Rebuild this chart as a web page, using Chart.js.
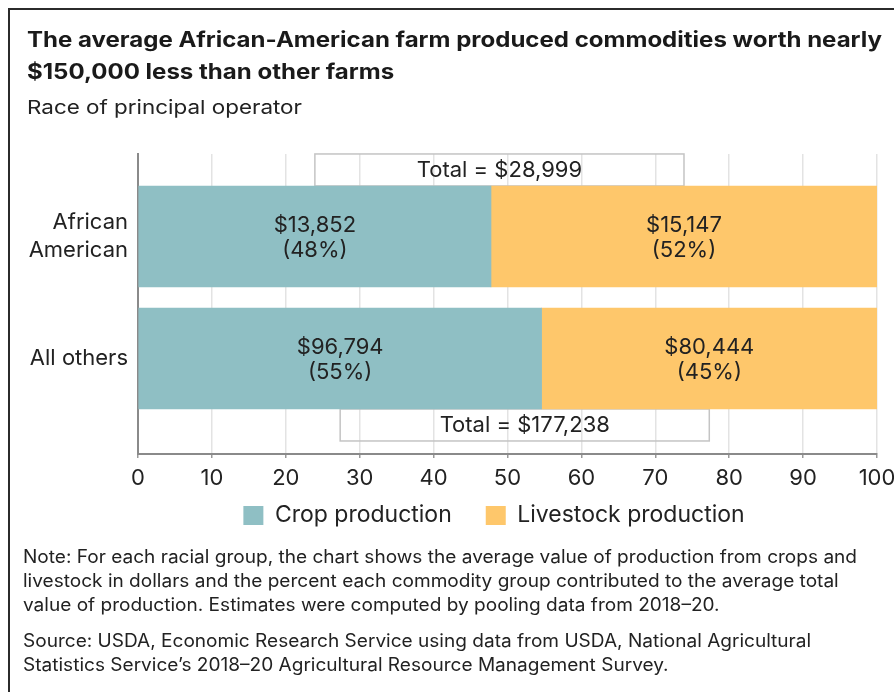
<!DOCTYPE html>
<html>
<head>
<meta charset="utf-8">
<script src="https://cdn.jsdelivr.net/npm/chart.js@4.4.0/dist/chart.umd.min.js"></script>
<style>
  body { margin: 0; background: #fff; }
  #wrap { position: relative; width: 894px; height: 692px; overflow: hidden; font-family: Inter, sans-serif; color: #222; }
  #frame { position: absolute; left: 8px; top: 8px; width: 900px; height: 700px; border-left: 2px solid #2b2b2b; border-top: 2px solid #2b2b2b; }
  .line { position: absolute; white-space: nowrap; transform-origin: 0 0; line-height: 1; }
  .title { font-weight: 700; font-size: 21px; color: #1a1a1a; }
  .sub { font-size: 19px; }
  .note { font-size: 18px; }
  canvas { position: absolute; left: 0; top: 0; }
</style>
</head>
<body>
<div id="wrap">
  <canvas id="chart" width="894" height="692"></canvas>
  <div id="frame"></div>
  <div class="line title" id="t1" style="left:27px; top:29px">The average African-American farm produced commodities worth nearly</div>
  <div class="line title" id="t2" style="left:27px; top:61px">$150,000 less than other farms</div>
  <div class="line sub" id="s1" style="left:27px; top:98px">Race of principal operator</div>
  <div class="line note" id="n1" style="left:23px; top:548px">Note: For each racial group, the chart shows the average value of production from crops and</div>
  <div class="line note" id="n2" style="left:23px; top:572px">livestock in dollars and the percent each commodity group contributed to the average total</div>
  <div class="line note" id="n3" style="left:23px; top:596px">value of production. Estimates were computed by pooling data from 2018–20.</div>
  <div class="line note" id="n4" style="left:23px; top:632px">Source: USDA, Economic Research Service using data from USDA, National Agricultural</div>
  <div class="line note" id="n5" style="left:23px; top:656px">Statistics Service’s 2018–20 Agricultural Resource Management Survey.</div>
</div>
<script>
// data
const categories = [['African', 'American'], 'All others'];
const cropDollars = [13852, 96794];
const livestockDollars = [15147, 80444];
const cropPct = [48, 55];
const livestockPct = [52, 45];
const seriesNames = ['Crop production', 'Livestock production'];

const totals = cropDollars.map((v, i) => v + livestockDollars[i]);
const cropShare = cropDollars.map((v, i) => v / totals[i] * 100);
const livestockShare = livestockDollars.map((v, i) => v / totals[i] * 100);

const TEAL = '#8FBFC4';
const GOLD = '#FEC76B';
const FONT = 'Inter';

// squeeze html text lines to the widths in the picture
function fit(ids, width) {
  const first = document.getElementById(ids[0]);
  const k = width / first.getBoundingClientRect().width;
  ids.forEach(id => { document.getElementById(id).style.transform = 'scaleX(' + k + ')'; });
}
fit(['t1', 't2'], 855);
fit(['s1'], 275);
fit(['n1', 'n2', 'n3', 'n4', 'n5'], 834);

function money(v) {
  return '$' + v.toLocaleString('en-US');
}

const barText = {
  id: 'barText',
  afterLayout(chart) {
    // legend sits closer to the axis than chart.js would put it
    const lg = chart.legend;
    const h = lg.bottom - lg.top;
    lg.top = 470;
    lg.bottom = 470 + h;
    lg.left = 111;
    lg.right = 877;
  },
  beforeDatasetsDraw(chart) {
    const ctx = chart.ctx;
    const m0 = chart.getDatasetMeta(0), m1 = chart.getDatasetMeta(1);
    ctx.save();
    ctx.strokeStyle = '#c4c4c4';
    ctx.lineWidth = 1.5;
    for (let i = 0; i < totals.length; i++) {
      const b0 = m0.data[i], b1 = m1.data[i];
      const cx0 = (b0.x + b0.base) / 2, cx1 = (b1.x + b1.base) / 2;
      const top = i === 0 ? b0.y - b0.height / 2 - 32 : b0.y + b0.height / 2;
      ctx.strokeRect(cx0, top, cx1 - cx0, 32);
    }
    ctx.restore();
  },
  afterDatasetsDraw(chart) {
    const ctx = chart.ctx;
    ctx.save();
    ctx.fillStyle = '#222';
    ctx.textAlign = 'center';
    ctx.textBaseline = 'middle';
    ctx.font = '22px ' + FONT;
    const dollars = [cropDollars, livestockDollars];
    const pcts = [cropPct, livestockPct];
    chart.data.datasets.forEach((ds, d) => {
      chart.getDatasetMeta(d).data.forEach((bar, i) => {
        const cx = (bar.x + bar.base) / 2;
        ctx.fillText(money(dollars[d][i]), cx, bar.y - 11.5);
        ctx.fillText('(' + pcts[d][i] + '%)', cx, bar.y + 13.5);
      });
    });
    const m0 = chart.getDatasetMeta(0), m1 = chart.getDatasetMeta(1);
    for (let i = 0; i < totals.length; i++) {
      const b0 = m0.data[i], b1 = m1.data[i];
      const cx = ((b0.x + b0.base) / 2 + (b1.x + b1.base) / 2) / 2;
      const y = i === 0 ? b0.y - b0.height / 2 - 16 : b0.y + b0.height / 2 + 16;
      ctx.fillText('Total = ' + money(totals[i]), cx, y);
    }
    ctx.restore();
  }
};

const data = {
  datasets: [{
      label: seriesNames[0],
      data: cropShare.map((v, i) => ({x: v, y: i})),
      backgroundColor: TEAL,
      barThickness: 101,
      grouped: false
    }, {
      label: seriesNames[1],
      data: livestockShare.map((v, i) => ({x: v, y: i})),
      backgroundColor: GOLD,
      barThickness: 101,
      grouped: false
    }]
};

const config = {
  type: 'bar',
  data: data,
  options: {
    indexAxis: 'y',
    responsive: false,
    animation: false,
    layout: {padding: {top: 154, left: 10, right: 17, bottom: 135}, autoPadding: false},
    scales: {
      x: {
        type: 'linear', min: 0, max: 100, stacked: true,
        afterFit(s) { s.height = 36; },
        // small tick padding keeps the axis full width; the tall line height pushes labels down
        ticks: {stepSize: 10, color: '#222', padding: -2, font: {family: FONT, size: 22, lineHeight: 2}},
        grid: {color: '#e3e3e3', lineWidth: 1.5, tickLength: 4, tickColor: '#999'},
        border: {color: '#8a8a8a', width: 2}
      },
      y: {
        type: 'linear', min: -0.676, max: 1.783, reverse: true, offset: false,
        afterFit(s) { s.width = 128; },
        ticks: {stepSize: 1, includeBounds: false, padding: 10, color: '#222',
          font: {family: FONT, size: 22, lineHeight: 1.25},
          callback: (v) => categories[v]},
        grid: {display: false, drawTicks: false},
        border: {color: '#8a8a8a', width: 2}
      }
    },
    plugins: {
      legend: {
        position: 'bottom',
        labels: {boxWidth: 20, boxHeight: 19, padding: 34, color: '#222', font: {family: FONT, size: 23}}
      },
      tooltip: {enabled: false}
    }
  },
  plugins: [barText]
};

let ctx = document.getElementById('chart').getContext('2d');
new Chart(ctx, config);
</script>
</body>
</html>
